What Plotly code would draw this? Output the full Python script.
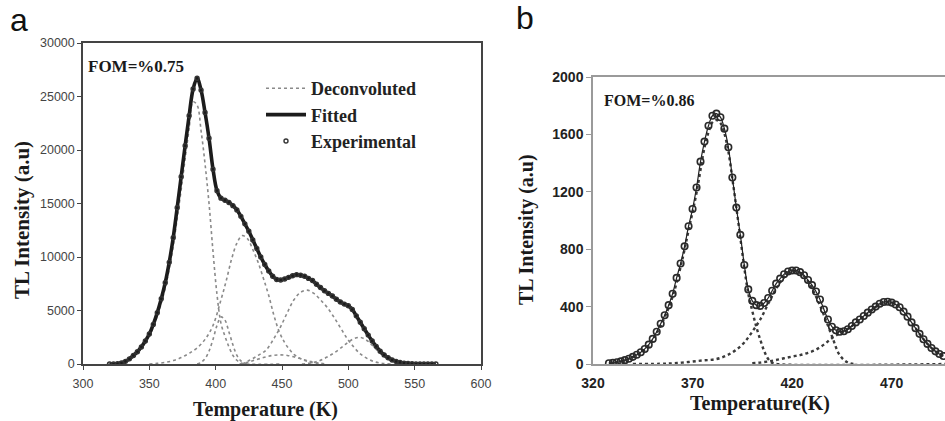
import plotly.graph_objects as go

W, H = 945, 421

# ---------------- Panel a data ----------------
temp_a_exp = [320, 323, 326, 329, 332, 335, 338, 341, 344, 347, 350, 353, 356, 359, 362, 365, 368, 371,
              374, 377, 380, 383, 386, 389, 392, 395, 398, 401, 404, 407, 410, 413, 416, 419, 422, 425,
              428, 431, 434, 437, 440, 443, 446, 449, 452, 455, 458, 461, 464, 467, 470, 473, 476, 479,
              482, 485, 488, 491, 494, 497, 500, 503, 506, 509, 512, 515, 518, 521, 524, 527, 530, 533,
              536, 539, 542, 545, 548, 551, 554, 557, 560, 563, 566]
tl_a_exp = [0, 0, 30, 100, 250, 480, 800, 1150, 1600, 2150, 2800, 3700, 4800, 6100, 7600, 9500, 11800, 14600,
            17500, 20400, 23200, 25700, 26700, 25600, 23500, 21100, 18200, 16200, 15500, 15300, 15100, 14800, 14400, 13800, 13100, 12400,
            11600, 10800, 10000, 9300, 8700, 8200, 7900, 7850, 7950, 8100, 8250, 8350, 8300, 8200, 8000, 7800, 7450, 7150,
            6850, 6600, 6350, 6050, 5800, 5600, 5450, 5100, 4500, 3900, 3300, 2700, 2150, 1650, 1200, 850, 580, 380,
            240, 150, 85, 45, 18, 6, 0, 0, 0, 0, 0]
# fitted curve (coincides with the experimental points)
temp_a_fit = temp_a_exp
tl_a_fit = tl_a_exp

# deconvoluted components (panel a)
a_p1_t = [318, 329, 332, 335, 338, 341, 344, 347, 350, 353, 356, 359, 362, 365, 368, 371, 374, 377, 380, 383,
          386, 389, 392, 395, 398, 401, 404, 407, 410, 413, 416, 419, 422, 450]
a_p1_v = [0, 60, 200, 400, 700, 1050, 1500, 2000, 2600, 3450, 4500, 5700, 7100, 8900, 11000, 13600, 16300, 19200, 22000, 24500,
          24200, 21800, 18700, 15000, 10500, 6500, 3800, 2600, 1600, 800, 350, 100, 0, 0]
a_p2_t = [386, 389, 392, 395, 398, 401, 404, 407, 410, 413, 416, 419, 422, 425]
a_p2_v = [0, 150, 500, 1200, 2300, 3600, 4400, 4100, 3000, 1800, 800, 300, 80, 0]
a_p3_t = [350, 356, 362, 368, 374, 380, 386, 392, 398, 404, 408, 412, 416, 420, 424, 428, 432, 436, 440, 444,
          448, 452, 456, 460, 466, 472, 480]
a_p3_v = [0, 60, 150, 320, 600, 1000, 1500, 2300, 3600, 6000, 7800, 9800, 11300, 12000, 11700, 10700, 9500, 8000, 6400, 4500,
          3000, 2000, 1300, 800, 400, 150, 0]
a_p4_t = [418, 424, 430, 436, 442, 448, 454, 460, 466, 472, 478, 484]
a_p4_v = [0, 150, 380, 600, 780, 850, 800, 640, 420, 220, 80, 0]
a_p5_t = [420, 426, 432, 438, 444, 449, 454, 459, 464, 469, 474, 479, 484, 489, 494, 499, 504, 509, 514, 520, 526, 532]
a_p5_v = [0, 370, 800, 1300, 2400, 3500, 4800, 6000, 6700, 6900, 6600, 6000, 5300, 4400, 3400, 2400, 1600, 950, 530, 200, 50, 0]
a_p6_t = [465, 472, 478, 484, 490, 496, 500, 504, 509, 514, 519, 524, 529, 534, 539, 545, 566]
a_p6_v = [0, 100, 300, 650, 1100, 1650, 2050, 2350, 2490, 2200, 1620, 1000, 530, 250, 100, 0, 0]

xticks_a = [300, 350, 400, 450, 500, 550, 600]
yticks_a = [0, 5000, 10000, 15000, 20000, 25000, 30000]

# ---------------- Panel b data ----------------
temp_b_exp = [328, 330, 332, 334, 336, 338, 340, 342, 344, 346, 348, 350, 352, 354, 356, 358, 360, 362, 364, 366,
              368, 370, 372, 374, 376, 378, 380, 382, 384, 386, 388, 390, 392, 394, 396, 398, 400, 402, 404, 406,
              408, 410, 412, 414, 416, 418, 420, 422, 424, 426, 428, 430, 432, 434, 436, 438, 440, 442, 444, 446,
              448, 450, 452, 454, 456, 458, 460, 462, 464, 466, 468, 470, 472, 474, 476, 478, 480, 482, 484, 486,
              488, 490, 492, 494, 496]
tl_b_exp = [5, 8, 12, 18, 27, 37, 50, 64, 82, 105, 135, 175, 225, 280, 340, 410, 490, 600, 700, 820,
            960, 1080, 1230, 1410, 1550, 1660, 1730, 1745, 1720, 1640, 1510, 1300, 1090, 900, 690, 520, 440, 410, 405, 425,
            460, 510, 560, 595, 625, 645, 652, 652, 640, 618, 585, 550, 505, 450, 380, 310, 260, 235, 225, 228,
            242, 265, 290, 310, 335, 358, 380, 400, 420, 432, 434, 428, 415, 395, 365, 330, 290, 250, 210, 172,
            140, 112, 88, 70, 56]
temp_b_fit = temp_b_exp
tl_b_fit = tl_b_exp

b_p1_t = [328, 332, 336, 340, 344, 348, 352, 356, 360, 364, 368, 372, 376, 378, 380, 382, 384, 386, 388, 390,
          392, 394, 396, 398, 400, 402, 404, 406, 408, 410, 412, 497]
b_p1_v = [5, 12, 26, 48, 79, 128, 214, 325, 470, 676, 930, 1193, 1508, 1615, 1685, 1700, 1680, 1605, 1480, 1290,
          1090, 880, 670, 490, 370, 260, 170, 90, 35, 8, 0, 0]
b_p2_t = [340, 356, 360, 364, 368, 372, 376, 380, 384, 388, 392, 396, 400, 404, 408, 412, 416, 420, 424, 428, 432,
          436, 440, 444, 448, 452]
b_p2_v = [0, 2, 5, 9, 14, 20, 26, 30, 42, 65, 100, 150, 225, 310, 420, 525, 605, 648, 635, 575, 470,
          340, 195, 60, 10, 0]
b_p3_t = [400, 404, 408, 412, 416, 420, 424, 428, 432, 436, 440, 444, 448, 452, 456, 460, 464, 468, 472, 476,
          480, 484, 488, 492, 496]
b_p3_v = [5, 10, 18, 28, 40, 52, 62, 78, 100, 135, 180, 215, 245, 285, 330, 375, 415, 432, 420, 365,
          290, 210, 140, 88, 56]

xticks_b = [320, 370, 420, 470]
yticks_b = [0, 400, 800, 1200, 1600, 2000]

# ---------------- figure ----------------
def px_x(p):
    return p / W

def px_y(p):
    return (H - p) / H

fig = go.Figure()

dec_a = [(a_p1_t, a_p1_v), (a_p2_t, a_p2_v), (a_p3_t, a_p3_v), (a_p4_t, a_p4_v), (a_p5_t, a_p5_v), (a_p6_t, a_p6_v)]
for i, (t, v) in enumerate(dec_a):
    fig.add_trace(go.Scatter(x=t, y=v, mode="lines", line=dict(color="#8a8a8a", width=1.6, dash="dot", shape="spline"),
                             name="Deconvoluted", legendgroup="dec", showlegend=(i == 0), xaxis="x", yaxis="y"))
fig.add_trace(go.Scatter(x=temp_a_fit, y=tl_a_fit, mode="lines", line=dict(color="#1c1c1c", width=3.6, shape="spline"),
                         name="Fitted", legendgroup="fit", xaxis="x", yaxis="y"))
fig.add_trace(go.Scatter(x=temp_a_exp, y=tl_a_exp, mode="markers",
                         marker=dict(symbol="circle-open", size=4, color="#333", line=dict(width=1.4, color="#333")),
                         name="Experimental", legendgroup="exp", xaxis="x", yaxis="y"))

dec_b = [(b_p1_t, b_p1_v), (b_p2_t, b_p2_v), (b_p3_t, b_p3_v)]
for t, v in dec_b:
    fig.add_trace(go.Scatter(x=t, y=v, mode="lines", line=dict(color="#3a3a3a", width=2.4, dash="dot", shape="spline"),
                             showlegend=False, xaxis="x2", yaxis="y2"))
fig.add_trace(go.Scatter(x=temp_b_fit, y=tl_b_fit, mode="lines", line=dict(color="#222", width=1.2, shape="spline"),
                         showlegend=False, xaxis="x2", yaxis="y2"))
fig.add_trace(go.Scatter(x=temp_b_exp, y=tl_b_exp, mode="markers",
                         marker=dict(symbol="circle-open", size=6.5, color="#2a2a2a", line=dict(width=1.6, color="#2a2a2a")),
                         showlegend=False, xaxis="x2", yaxis="y2"))

tickfont_a = dict(family="Liberation Sans", size=12.5, color="#444")
tickfont_b = dict(family="Liberation Sans", size=14, color="#222", weight="bold")

fig.update_layout(
    width=W, height=H, margin=dict(l=0, r=0, t=0, b=0, autoexpand=False),
    paper_bgcolor="white", plot_bgcolor="white",
    xaxis=dict(domain=[px_x(83), px_x(481)], range=[300, 600], tickvals=xticks_a,
               showline=True, linecolor="#444", linewidth=1.5, mirror=True,
               ticks="outside", ticklen=4, tickcolor="#444", tickfont=tickfont_a,
               showgrid=False, zeroline=False, ticklabelstandoff=3, anchor="y", automargin=False),
    yaxis=dict(domain=[px_y(364), px_y(43)], range=[0, 30000], tickvals=yticks_a, tickformat="d",
               showline=True, linecolor="#444", linewidth=1.5, mirror=True,
               ticks="outside", ticklen=4, tickcolor="#444", tickfont=tickfont_a,
               showgrid=False, zeroline=False, anchor="x", automargin=False),
    xaxis2=dict(domain=[px_x(593), 1.0], range=[320, 496.8], tickvals=xticks_b,
                showline=True, linecolor="#9a9a9a", linewidth=1.5, mirror=True,
                ticks="", tickfont=tickfont_b, showgrid=False, zeroline=False,
                ticklabelstandoff=5, anchor="y2", automargin=False),
    yaxis2=dict(domain=[px_y(364), px_y(77)], range=[0, 2000], tickvals=yticks_b,
                showline=True, linecolor="#9a9a9a", linewidth=1.5, mirror=False,
                ticks="outside", ticklen=5, tickcolor="#9a9a9a", tickfont=tickfont_b,
                showgrid=False, zeroline=False, anchor="x2", automargin=False),
    legend=dict(x=px_x(261), y=px_y(70), xanchor="left", yanchor="top",
                font=dict(family="Liberation Serif", size=18, color="#222", weight="bold"),
                bgcolor="rgba(0,0,0,0)", traceorder="grouped", tracegroupgap=0, itemwidth=40),
    showlegend=True,
)

serif_b = dict(family="Liberation Serif", color="#1a1a1a", weight="bold")
ann = [
    dict(text="a", x=px_x(8), y=px_y(20), xanchor="left", yanchor="middle",
         font=dict(family="Liberation Sans", size=32, color="#111")),
    dict(text="b", x=px_x(514), y=px_y(18), xanchor="left", yanchor="middle",
         font=dict(family="Liberation Sans", size=32, color="#111")),
    dict(text="FOM=%0.75", x=px_x(86), y=px_y(67), xanchor="left", yanchor="middle",
         font=dict(size=17, **serif_b)),
    dict(text="FOM=%0.86", x=px_x(602), y=px_y(100), xanchor="left", yanchor="middle",
         font=dict(size=16, **serif_b)),
    dict(text="TL Intensity (a.u)", x=px_x(22), y=px_y(220), textangle=-90, xanchor="center", yanchor="middle",
         font=dict(size=21, **serif_b)),
    dict(text="Temperature (K)", x=px_x(265), y=px_y(409), xanchor="center", yanchor="middle",
         font=dict(size=20, **serif_b)),
    dict(text="TL Intensity (a.u)", x=px_x(526), y=px_y(230), textangle=-90, xanchor="center", yanchor="middle",
         font=dict(size=20, **serif_b)),
    dict(text="Temperature(K)", x=px_x(760), y=px_y(403), xanchor="center", yanchor="middle",
         font=dict(size=20, **serif_b)),
]
for a in ann:
    a.update(xref="paper", yref="paper", showarrow=False)
fig.update_layout(annotations=ann)

fig.write_html("out.html",
               post_script="document.body.style.margin='0px';document.body.style.overflow='hidden';")
